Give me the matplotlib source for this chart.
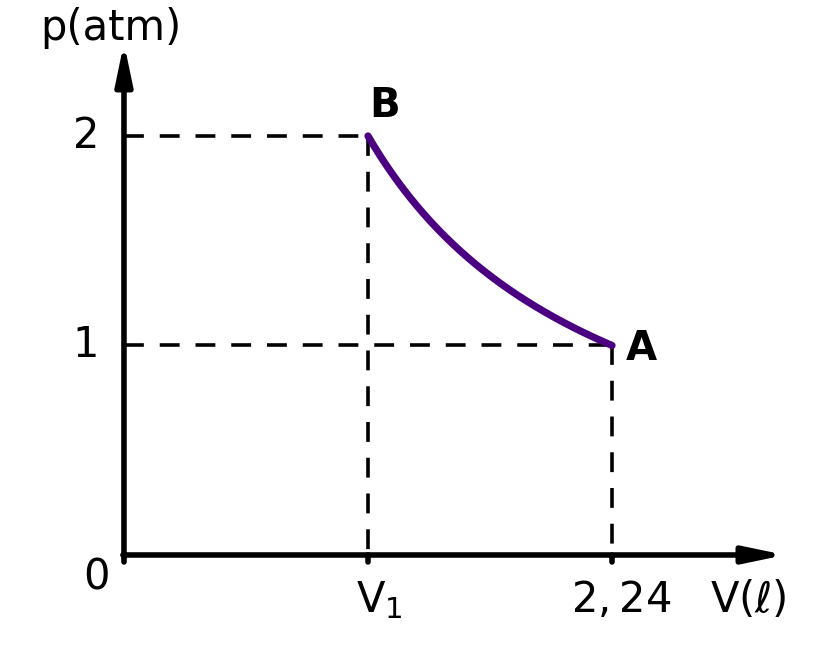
import numpy as np
import matplotlib.pyplot as plt

plt.rcParams['mathtext.fontset'] = 'dejavusans'

# data: isothermal process from A to B
p_levels = [1, 2]
p_labels = ['1', '2']
V_A = 2.24
p_A = 1
p_B = 2
V_B = V_A * p_A / p_B  # V1

V = np.linspace(V_B, V_A, 200)
p = p_A * V_A / V

fig = plt.figure(figsize=(8.36, 6.5), dpi=100)
ax = fig.add_axes([0, 0, 1, 1])
ax.set_xlim(-0.569, 3.268)
ax.set_ylim(-0.4535, 2.649)
ax.axis('off')

# axes with arrows
arrow = dict(arrowstyle='-|>,head_length=2.4,head_width=0.5',
             lw=4, color='black', shrinkA=0, shrinkB=0)
ax.annotate('', xy=(3.035, 0), xytext=(-0.005, 0), arrowprops=arrow)
ax.annotate('', xy=(0, 2.445), xytext=(0, -0.01), arrowprops=arrow)

# small ticks on x axis
for xv in [0, V_B, V_A]:
    ax.plot([xv, xv], [0, -0.035], color='black', lw=4, solid_capstyle='round')

# dashed guide lines
dash = (0, (5.5, 4.4))
kw = dict(color='black', lw=2.6, linestyle=dash, dash_capstyle='butt')
ax.plot([0, V_B], [p_B, p_B], **kw)
ax.plot([V_B, V_B], [p_B, 0], **kw)
ax.plot([0, V_A], [p_A, p_A], **kw)
ax.plot([V_A, V_A], [p_A, 0], **kw)

# process curve
ax.plot(V, p, color='#4b0082', lw=5.2, solid_capstyle='round')

# labels
ax.text(1.125, 2.091, 'B', fontsize=29, fontweight='bold', ha='left', va='baseline')
ax.text(2.305, 0.931, 'A', fontsize=29, fontweight='bold', ha='left', va='baseline')

for pv, lab in zip(p_levels, p_labels):
    ax.text(-0.115, pv, lab, fontsize=30, ha='right', va='center')
ax.text(-0.064, -0.167, '0', fontsize=30, ha='right', va='baseline')
ax.text(1.17, -0.272, r'$\mathregular{V_1}$', fontsize=30, ha='center', va='baseline')
ax.text(2.281, -0.272, r'$\mathregular{2,24}$', fontsize=30, ha='center', va='baseline')
ax.text(2.69, -0.272, r'V($\ell$)', fontsize=30, ha='left', va='baseline')
ax.text(-0.059, 2.458, 'p(atm)', fontsize=30, ha='center', va='baseline')

plt.savefig('out.png', dpi=100)
